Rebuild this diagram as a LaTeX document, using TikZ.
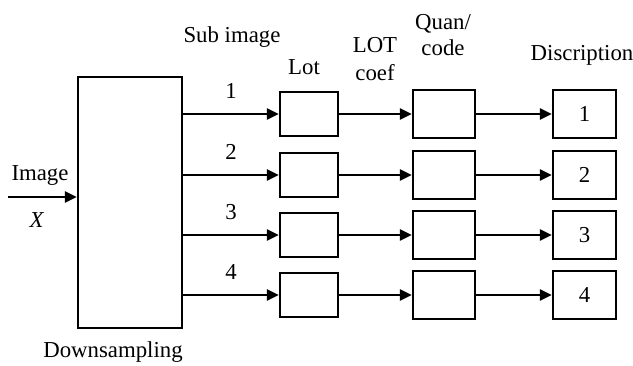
\documentclass[tikz,border=0pt]{standalone}
\usepackage{fontspec}
\setmainfont{Liberation Serif}
\usetikzlibrary{arrows.meta}
\tikzset{>={Triangle[length=6pt,width=5.5pt]}}

\begin{document}
\begin{tikzpicture}[x=0.5pt,y=-0.5pt,line width=1.2pt,
    blk/.style={draw,inner sep=0pt,font=\fontsize{11.4}{13}\selectfont},
    lbl/.style={inner sep=0pt,align=center,font=\fontsize{11.4}{13}\selectfont}]
  \useasboundingbox (0,0) rectangle (633,365);
  % blocks
  \node[blk,minimum width=52pt,minimum height=125.5pt] (down) at (130,202.5) {};
  \foreach \i/\y in {1/114,2/175,3/235,4/295} {
    \node[blk,minimum width=29pt,minimum height=22pt] (lot\i) at (309,\y) {};
    \node[blk,minimum width=31pt,minimum height=24pt] (quan\i) at (444,\y) {};
    \node[blk,minimum width=31.5pt,minimum height=24pt] (desc\i) at (584.5,\y) {\i};
  }
  % arrows
  \coordinate (in) at (8,197);
  \draw[->] (in) -- (in -| down.west);
  \foreach \i in {1,...,4} {
    \draw[->] (down.east |- lot\i.west) -- node[lbl,midway,above=7pt] {\i} (lot\i.west);
    \draw[->] (lot\i.east) -- (lot\i.east -| quan\i.west);
    \draw[->] (quan\i.east) -- (quan\i.east -| desc\i.west);
  }
  % labels
  \node[lbl] (img) at (40,175) {Image};
  \node[lbl] (x) at (37,220) {\textit{X}};
  \node[lbl] (sub) at (232,37) {Sub image};
  \node[lbl] (lot) at (304,67) {Lot};
  \node[lbl] (coef) at (375,59) {LOT\\[1pt]coef};
  \node[lbl] (quan) at (443,35) {Quan/\\code};
  \node[lbl] (disc) at (582,55) {Discription};
  \node[lbl] (ds) at (113,352) {Downsampling};
\end{tikzpicture}
\end{document}
